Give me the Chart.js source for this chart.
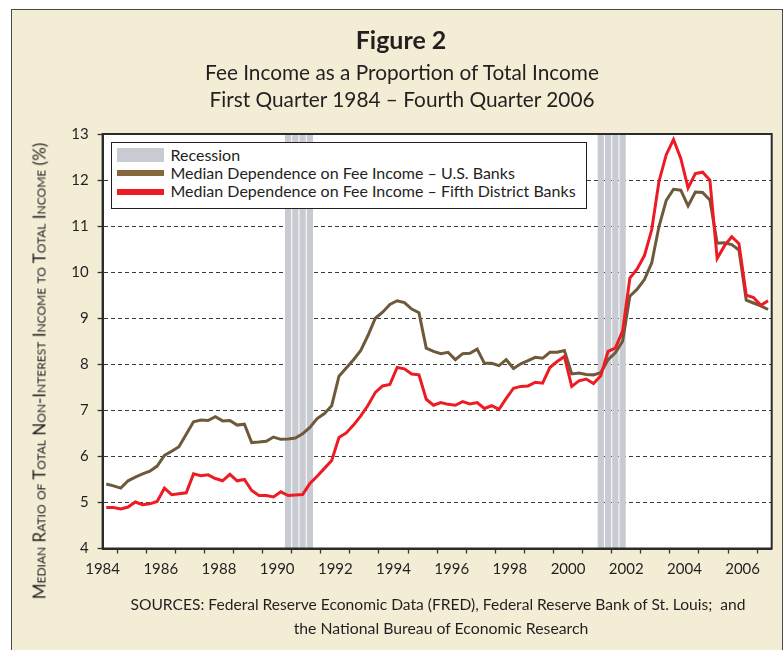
<!DOCTYPE html>
<html>
<head>
<meta charset="utf-8">
<script src="https://cdn.jsdelivr.net/npm/chart.js@4.4.0/dist/chart.umd.min.js"></script>
<style>
  body { margin: 0; width: 783px; height: 650px; overflow: hidden; position: relative; background: #fff;
         font-family: Lato, "Open Sans", sans-serif; color: #231f20; }
  #panel { position: absolute; left: 10.5px; top: 9px; width: 770px; height: 700px; background: #f4edd6;
           border: 1.5px solid #4a4a4a; }
  #chart { position: absolute; left: 0; top: 0; }
  .t { position: absolute; white-space: nowrap; line-height: 1.2; transform: translateX(-50%); }
  #fig { left: 401px; top: 23.5px; font-size: 25px; font-weight: 700; }
  #sub1 { left: 402px; top: 59.5px; font-size: 20.8px; }
  #sub2 { left: 402px; top: 86.8px; font-size: 20.8px; }
  #src1 { left: 438px; top: 594.6px; font-size: 15.6px; }
  #src2 { left: 441px; top: 618.5px; font-size: 15.8px; }
  #ytitle { position: absolute; left: 38.5px; top: 370.5px; white-space: nowrap; font-size: 17px; line-height: 1;
            font-variant: small-caps; transform: translate(-50%, -50%) rotate(-90deg); }
  #legend { position: absolute; left: 110.5px; top: 141.5px; width: 476px; height: 67px; box-sizing: border-box;
            background: #fff; border: 1.5px solid #231f20; padding: 3.3px 0 0 5px; }
  #legend .row { display: flex; align-items: center; height: 18.3px; font-size: 16px; line-height: 18.3px;
                 white-space: nowrap; }
  #legend .sw { display: inline-block; flex: none; width: 47px; margin-right: 7px; }
</style>
</head>
<body>
<div id="panel"></div>
<canvas id="chart" width="783" height="650"></canvas>
<div class="t" id="fig">Figure 2</div>
<div class="t" id="sub1">Fee Income as a Proportion of Total Income</div>
<div class="t" id="sub2">First Quarter 1984 – Fourth Quarter 2006</div>
<div id="ytitle">Median Ratio of Total Non-Interest Income to Total Income (%)</div>
<div class="t" id="src1">SOURCES: Federal Reserve Economic Data (FRED), Federal Reserve Bank of St. Louis;&nbsp; and</div>
<div class="t" id="src2">the National Bureau of Economic Research</div>
<div id="legend"></div>
<script>
// quarterly observations, 1984Q1 .. 2006Q4
const quarters = [];
for (let y = 1984; y <= 2006; y++) {
    for (let q = 1; q <= 4; q++) quarters.push(y + 'Q' + q);
}

const usBanks = [
    5.40, 5.36, 5.31, 5.47, 5.55, 5.62, 5.68, 5.79, 6.02, 6.11, 6.21, 6.48,
    6.75, 6.79, 6.78, 6.86, 6.77, 6.78, 6.68, 6.70, 6.30, 6.31, 6.33, 6.42,
    6.37, 6.38, 6.40, 6.49, 6.63, 6.82, 6.93, 7.10, 7.74, 7.92, 8.10, 8.30,
    8.63, 9.00, 9.13, 9.30, 9.38, 9.34, 9.20, 9.12, 8.35, 8.28, 8.23, 8.26,
    8.10, 8.23, 8.24, 8.33, 8.02, 8.02, 7.97, 8.10, 7.91, 8.01, 8.08, 8.15,
    8.13, 8.26, 8.26, 8.30, 7.79, 7.81, 7.78, 7.77, 7.82, 8.10, 8.25, 8.50,
    9.48, 9.63, 9.84, 10.20, 10.99, 11.56, 11.80, 11.78, 11.44, 11.74, 11.73, 11.57,
    10.63, 10.64, 10.60, 10.48, 9.39, 9.33, 9.27, 9.19
];

const fifthDistrict = [
    4.89, 4.89, 4.86, 4.90, 5.01, 4.95, 4.97, 5.02, 5.31, 5.17, 5.19, 5.21,
    5.62, 5.58, 5.60, 5.52, 5.47, 5.61, 5.47, 5.50, 5.26, 5.15, 5.15, 5.12,
    5.23, 5.15, 5.16, 5.17, 5.41, 5.57, 5.74, 5.91, 6.41, 6.51, 6.68, 6.88,
    7.11, 7.39, 7.53, 7.56, 7.93, 7.90, 7.79, 7.77, 7.24, 7.11, 7.17, 7.13,
    7.11, 7.19, 7.14, 7.17, 7.04, 7.10, 7.02, 7.26, 7.48, 7.52, 7.53, 7.61,
    7.59, 7.93, 8.06, 8.17, 7.52, 7.64, 7.68, 7.58, 7.75, 8.28, 8.35, 8.72,
    9.87, 10.07, 10.36, 10.92, 11.97, 12.55, 12.88, 12.47, 11.83, 12.14, 12.17, 12.00,
    10.30, 10.57, 10.77, 10.62, 9.50, 9.45, 9.28, 9.38
];

const recessionQuarters = ['1990Q2', '1990Q3', '1990Q4', '1991Q1', '2001Q1', '2001Q2', '2001Q3', '2001Q4'];

const yMin = 4, yMax = 13;
const yearTicks = [1984, 1986, 1988, 1990, 1992, 1994, 1996, 1998, 2000, 2002, 2004, 2006];

// quarter label -> position on the year axis (middle of the quarter)
const qx = (label) => {
    const [y, q] = label.split('Q').map(Number);
    return y + (q - 0.5) / 4;
};

const ink = '#231f20';

// white plot area and a frame all the way round it
const plotFrame = {
    id: 'plotFrame',
    beforeDraw(chart) {
        const { ctx, chartArea: a } = chart;
        ctx.save();
        ctx.fillStyle = '#fff';
        ctx.fillRect(a.left, a.top, a.right - a.left, a.bottom - a.top);
        ctx.restore();
    },
    afterDraw(chart) {
        const { ctx, chartArea: a } = chart;
        ctx.save();
        ctx.strokeStyle = '#2b2b2b';
        ctx.lineWidth = 2;
        ctx.strokeRect(a.left, a.top, a.right - a.left, a.bottom - a.top);
        ctx.restore();
    }
};

const chart = new Chart(document.getElementById('chart'), {
    type: 'line',
    data: {
        datasets: [
            {
                type: 'bar',
                label: 'Recession',
                data: recessionQuarters.map(q => ({ x: qx(q), y: [yMin, yMax] })),
                backgroundColor: '#c9cbd3',
                borderWidth: 0,
                barPercentage: 0.86,
                categoryPercentage: 1,
                order: 3
            },
            {
                label: 'Median Dependence on Fee Income – U.S. Banks',
                data: quarters.map((q, i) => ({ x: qx(q), y: usBanks[i] })),
                borderColor: '#6e5a3b',
                backgroundColor: '#86683f',
                borderWidth: 3,
                pointRadius: 0,
                tension: 0,
                order: 2
            },
            {
                label: 'Median Dependence on Fee Income – Fifth District Banks',
                data: quarters.map((q, i) => ({ x: qx(q), y: fifthDistrict[i] })),
                borderColor: '#ed1c24',
                backgroundColor: '#ed1c24',
                borderWidth: 3,
                pointRadius: 0,
                tension: 0,
                order: 1
            }
        ]
    },
    options: {
        responsive: false,
        animation: false,
        devicePixelRatio: 1,
        layout: { padding: { left: 0, top: 134, right: 11.3, bottom: 73.5 } },
        plugins: { legend: { display: false }, tooltip: { enabled: false } },
        scales: {
            x: {
                type: 'linear',
                min: 1984,
                max: 2007,
                offset: false,
                afterFit: (s) => { s.height = 28; },
                ticks: {
                    stepSize: 1,
                    autoSkip: false,
                    maxRotation: 0,
                    padding: 7,
                    color: ink,
                    font: { family: 'Lato', size: 15 },
                    callback: (v) => yearTicks.includes(v) ? String(v) : ''
                },
                grid: { drawOnChartArea: false, tickLength: 5, tickColor: '#333', tickWidth: 1.3 },
                border: { color: '#2b2b2b', width: 2 }
            },
            y: {
                min: yMin,
                max: yMax,
                afterFit: (s) => { s.width = 102.6; },
                ticks: {
                    stepSize: 1,
                    padding: 9,
                    color: ink,
                    font: { family: 'Lato', size: 15 }
                },
                grid: {
                    color: (c) => (c.tick && (c.tick.value === yMin || c.tick.value === yMax)) ? 'rgba(0,0,0,0)' : '#3a3a3a',
                    lineWidth: 1,
                    tickLength: 5,
                    tickColor: '#333',
                    tickWidth: 1.3,
                    tickBorderDash: []
                },
                border: { color: '#2b2b2b', width: 2, dash: [4, 3] }
            }
        }
    },
    plugins: [plotFrame]
});

// legend built from the datasets
const legendEl = document.getElementById('legend');
chart.data.datasets.forEach((ds) => {
    const row = document.createElement('div');
    row.className = 'row';
    const sw = document.createElement('span');
    sw.className = 'sw';
    sw.style.background = ds.backgroundColor;
    sw.style.height = ds.type === 'bar' ? '14px' : '6px';
    const txt = document.createElement('span');
    txt.textContent = ds.label;
    row.appendChild(sw);
    row.appendChild(txt);
    legendEl.appendChild(row);
});
</script>
</body>
</html>
